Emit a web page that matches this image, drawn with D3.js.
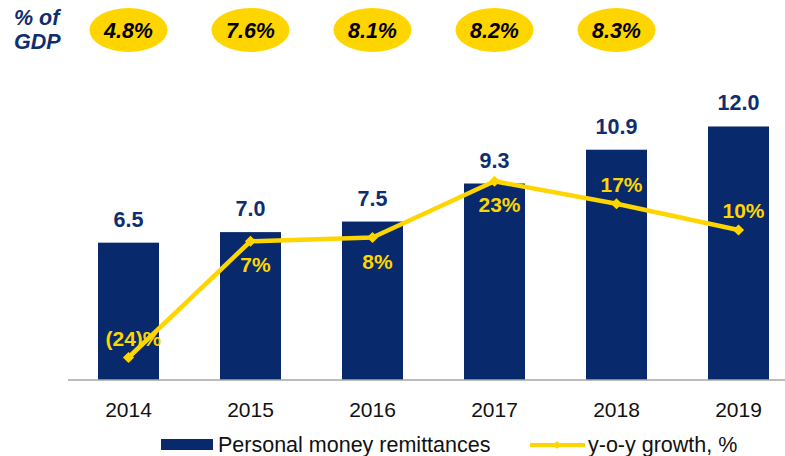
<!DOCTYPE html>
<html>
<head>
<meta charset="utf-8">
<script src="https://cdn.jsdelivr.net/npm/d3@7"></script>
<style>
  html, body { margin: 0; padding: 0; background: #fff; }
  svg { display: block; font-family: Arial, "Liberation Sans", sans-serif; }
</style>
</head>
<body>
<svg id="chart" width="785" height="456"></svg>
<script>
// ── data ──
const years       = ['2014', '2015', '2016', '2017', '2018', '2019'];
const remittances = [6.5, 7.0, 7.5, 9.3, 10.9, 12.0];
const growth      = [-24, 7, 8, 23, 17, 10];
const growthText  = ['(24)%', '7%', '8%', '23%', '17%', '10%'];
const gdpYears    = ['2014', '2015', '2016', '2017', '2018'];
const gdpShare    = ['4.8%', '7.6%', '8.1%', '8.2%', '8.3%'];
// growth label above/below its point
const growthSide  = ['above', 'below', 'below', 'below', 'above', 'above'];

const NAVY = '#08296b';
const NAVY_TXT = '#0f2e6e';
const GOLD = '#ffd500';

const svg = d3.select('#chart');

const x = d3.scaleBand().domain(years).range([67.5, 799.5]).paddingInner(0.5).paddingOuter(0.25);
const y = d3.scaleLinear().domain([0, 14.2]).range([380, 80]);
const y2 = d3.scaleLinear().domain([-30, 50]).range([380, 80]);
const cx = d => x(d) + x.bandwidth() / 2;

// bars
svg.selectAll('.bar').data(years).enter().append('rect')
  .attr('x', d => x(d)).attr('width', x.bandwidth())
  .attr('y', (d, i) => y(remittances[i]))
  .attr('height', (d, i) => y(0) - y(remittances[i]))
  .attr('fill', NAVY);

// bar values
svg.selectAll('.bar-lbl').data(years).enter().append('text')
  .attr('x', d => cx(d)).attr('y', (d, i) => y(remittances[i]) - 16)
  .attr('text-anchor', 'middle').attr('font-size', 21.5).attr('font-weight', 'bold')
  .attr('fill', NAVY_TXT)
  .text((d, i) => remittances[i].toFixed(1));

// axis
const axis = svg.append('g').attr('transform', `translate(0,${y(0)})`)
  .call(d3.axisBottom(x).tickSize(0).tickPadding(22));
axis.select('.domain').remove();
axis.append('line').attr('x1', 68).attr('x2', 785).attr('stroke', '#a6a6a6').attr('stroke-width', 1.5);
axis.selectAll('.tick text').attr('font-size', 21).attr('fill', '#111')
  .attr('font-family', 'Arial, "Liberation Sans", sans-serif');

// growth line
const line = d3.line().x((d, i) => cx(years[i])).y(d => y2(d));
svg.append('path').datum(growth)
  .attr('d', line).attr('fill', 'none').attr('stroke', GOLD).attr('stroke-width', 4.5)
  .attr('stroke-linejoin', 'round');

const diamond = d3.symbol().type(d3.symbolDiamond2).size(80);
svg.selectAll('.mk').data(growth).enter().append('path')
  .attr('d', diamond)
  .attr('transform', (d, i) => `translate(${cx(years[i])},${y2(d)})`)
  .attr('fill', GOLD);

svg.selectAll('.g-lbl').data(growth).enter().append('text')
  .attr('x', (d, i) => cx(years[i]) + 5)
  .attr('y', (d, i) => y2(d) + (growthSide[i] === 'above' ? -12 : 31))
  .attr('text-anchor', 'middle').attr('font-size', 21).attr('font-weight', 'bold')
  .attr('fill', GOLD)
  .text((d, i) => growthText[i]);

// % of GDP row
const gdp = svg.append('g');
gdp.append('text').attr('x', 14).attr('y', 25)
  .attr('font-size', 21.5).attr('font-weight', 'bold').attr('font-style', 'italic')
  .attr('fill', NAVY_TXT).text('% of');
gdp.append('text').attr('x', 14).attr('y', 49)
  .attr('font-size', 21.5).attr('font-weight', 'bold').attr('font-style', 'italic')
  .attr('fill', NAVY_TXT).text('GDP');
gdp.selectAll('ellipse').data(gdpYears).enter().append('ellipse')
  .attr('cx', d => cx(d)).attr('cy', 30).attr('rx', 39).attr('ry', 22)
  .attr('fill', GOLD);
gdp.selectAll('.gdp-lbl').data(gdpYears).enter().append('text')
  .attr('x', d => cx(d)).attr('y', 37.5)
  .attr('text-anchor', 'middle').attr('font-size', 21.5)
  .attr('font-weight', 'bold').attr('font-style', 'italic').attr('fill', '#000')
  .text((d, i) => gdpShare[i]);

// legend
const lg = svg.append('g');
lg.append('rect').attr('x', 161).attr('y', 439).attr('width', 52).attr('height', 11).attr('fill', NAVY);
lg.append('text').attr('x', 218).attr('y', 452).attr('font-size', 21.5).attr('fill', '#111')
  .text('Personal money remittances');
lg.append('line').attr('x1', 530).attr('x2', 585).attr('y1', 445).attr('y2', 445)
  .attr('stroke', GOLD).attr('stroke-width', 4);
lg.append('path').attr('d', d3.symbol().type(d3.symbolDiamond2).size(40))
  .attr('transform', 'translate(557,445)').attr('fill', GOLD);
lg.append('text').attr('x', 588).attr('y', 452).attr('font-size', 21.5).attr('fill', '#111')
  .text('y-o-y growth, %');
</script>
</body>
</html>
